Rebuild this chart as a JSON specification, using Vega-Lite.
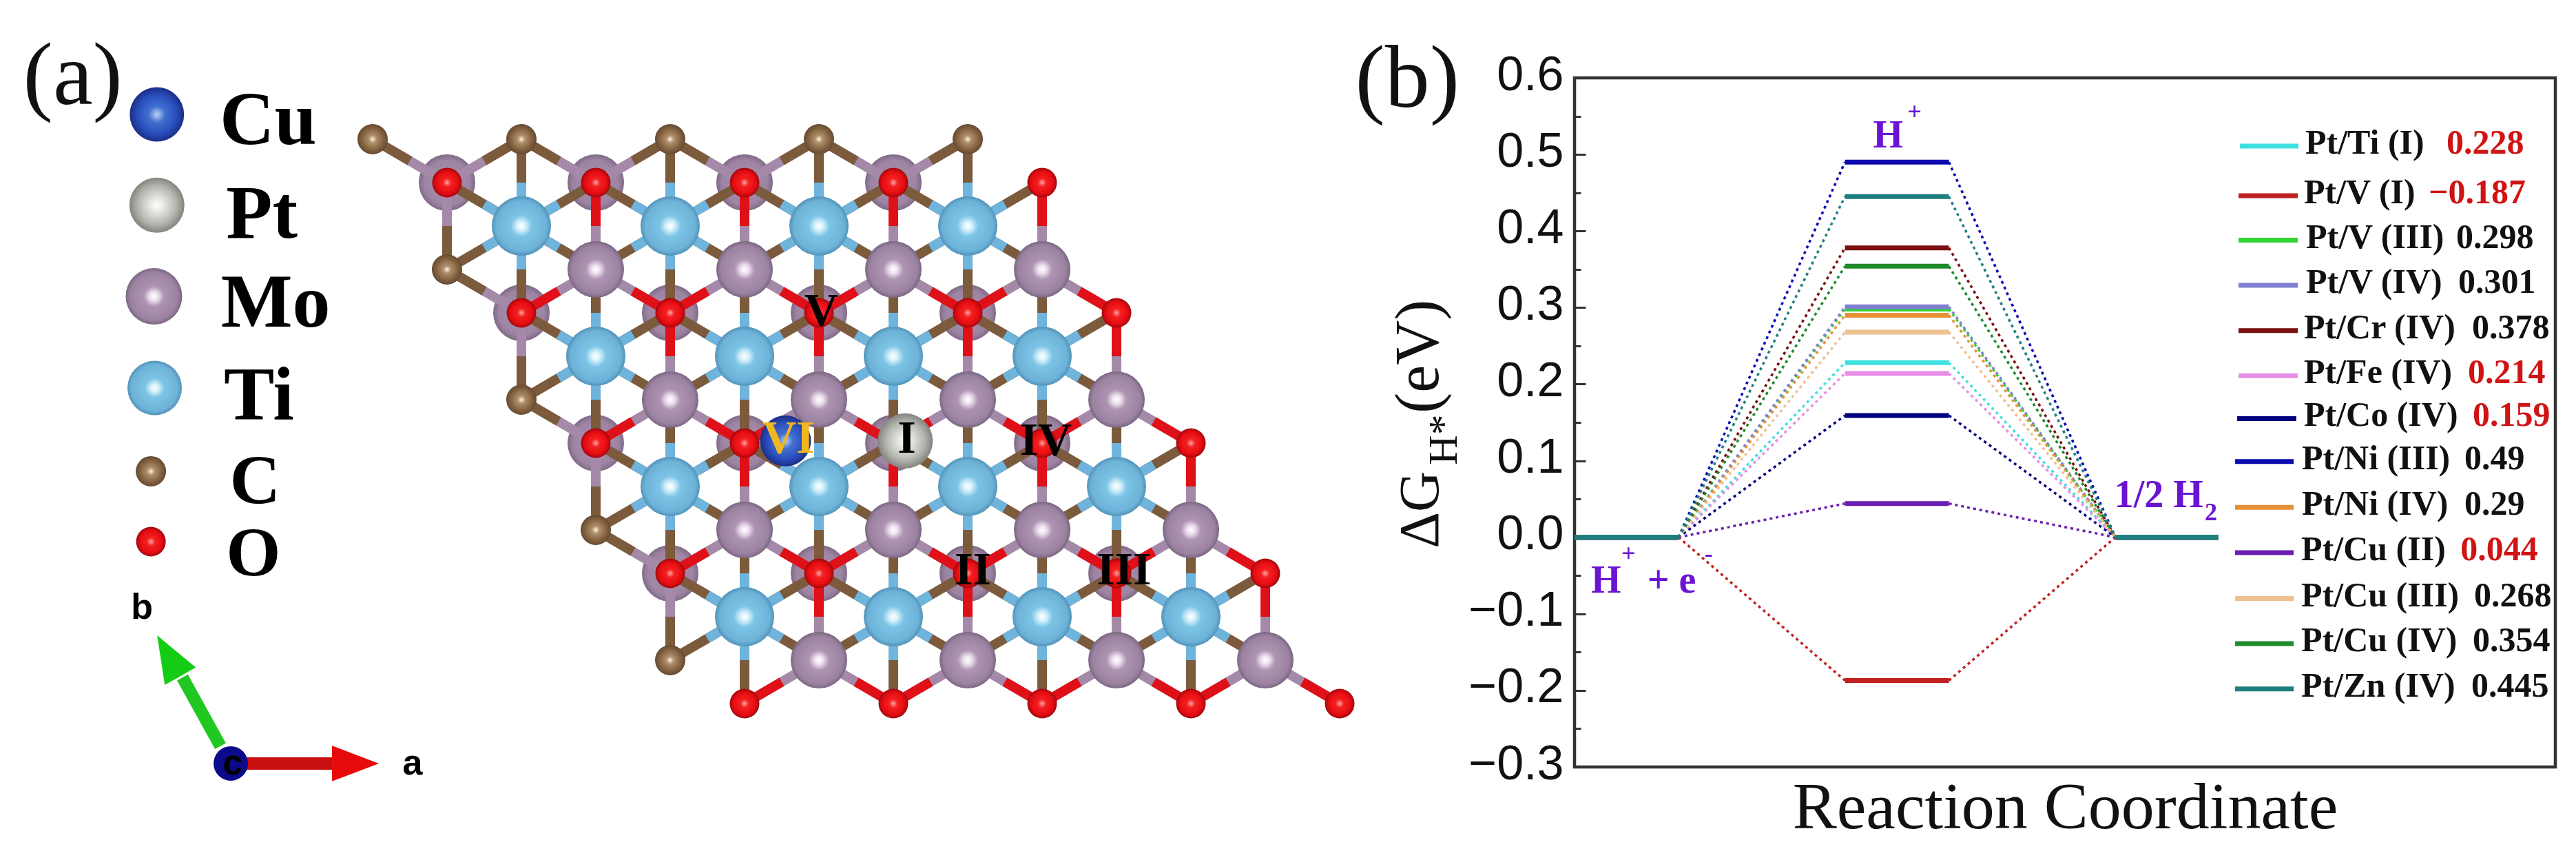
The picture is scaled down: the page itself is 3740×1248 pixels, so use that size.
{
"$schema":"https://vega.github.io/schema/vega-lite/v6.json",
"background":"white",
"padding":0,
"bounds":"flush",
"spacing":0,
"resolve":{"scale":{"color":"independent"}},
"config":{"view":{"stroke":null},"text":{"font":"Liberation Serif"}},
"datasets":{
"atoms":[
{"el":"Mo_b","x":1,"y":1},{"el":"Mo_b","x":3,"y":1},{"el":"Mo_b","x":5,"y":1},{"el":"Mo_b","x":7,"y":1},
{"el":"Mo_b","x":2,"y":4},{"el":"Mo_b","x":4,"y":4},{"el":"Mo_b","x":6,"y":4},{"el":"Mo_b","x":8,"y":4},
{"el":"Mo_b","x":3,"y":7},{"el":"Mo_b","x":5,"y":7},{"el":"Mo_b","x":7,"y":7},{"el":"Mo_b","x":9,"y":7},
{"el":"Mo_b","x":4,"y":10},{"el":"Mo_b","x":6,"y":10},{"el":"Mo_b","x":8,"y":10},{"el":"Mo_b","x":10,"y":10},
{"el":"Ti","x":2,"y":2},{"el":"Ti","x":4,"y":2},{"el":"Ti","x":6,"y":2},{"el":"Ti","x":8,"y":2},
{"el":"Ti","x":3,"y":5},{"el":"Ti","x":5,"y":5},{"el":"Ti","x":7,"y":5},{"el":"Ti","x":9,"y":5},
{"el":"Ti","x":4,"y":8},{"el":"Ti","x":6,"y":8},{"el":"Ti","x":8,"y":8},{"el":"Ti","x":10,"y":8},
{"el":"Ti","x":5,"y":11},{"el":"Ti","x":7,"y":11},{"el":"Ti","x":9,"y":11},{"el":"Ti","x":11,"y":11},
{"el":"Mo","x":3,"y":3},{"el":"Mo","x":5,"y":3},{"el":"Mo","x":7,"y":3},{"el":"Mo","x":9,"y":3},
{"el":"Mo","x":4,"y":6},{"el":"Mo","x":6,"y":6},{"el":"Mo","x":8,"y":6},{"el":"Mo","x":10,"y":6},
{"el":"Mo","x":5,"y":9},{"el":"Mo","x":7,"y":9},{"el":"Mo","x":9,"y":9},{"el":"Mo","x":11,"y":9},
{"el":"Mo","x":6,"y":12},{"el":"Mo","x":8,"y":12},{"el":"Mo","x":10,"y":12},{"el":"Mo","x":12,"y":12},
{"el":"Mo","x":-2.94,"y":3.62},
{"el":"C","x":0,"y":0},{"el":"C","x":2,"y":0},{"el":"C","x":4,"y":0},{"el":"C","x":6,"y":0},{"el":"C","x":8,"y":0},
{"el":"C","x":1,"y":3},{"el":"C","x":2,"y":6},{"el":"C","x":3,"y":9},{"el":"C","x":4,"y":12},
{"el":"C","x":-2.98,"y":7.65},
{"el":"O","x":1,"y":1},{"el":"O","x":3,"y":1},{"el":"O","x":5,"y":1},{"el":"O","x":7,"y":1},{"el":"O","x":9,"y":1},
{"el":"O","x":2,"y":4},{"el":"O","x":4,"y":4},{"el":"O","x":6,"y":4},{"el":"O","x":8,"y":4},{"el":"O","x":10,"y":4},
{"el":"O","x":3,"y":7},{"el":"O","x":5,"y":7},{"el":"O","x":9,"y":7},{"el":"O","x":11,"y":7},
{"el":"O","x":4,"y":10},{"el":"O","x":6,"y":10},{"el":"O","x":8,"y":10},{"el":"O","x":10,"y":10},{"el":"O","x":12,"y":10},
{"el":"O","x":5,"y":13},{"el":"O","x":7,"y":13},{"el":"O","x":9,"y":13},{"el":"O","x":11,"y":13},{"el":"O","x":13,"y":13},
{"el":"O","x":-2.98,"y":9.27},
{"el":"Pt","x":7.16,"y":6.95},{"el":"Pt","x":-2.9,"y":1.52},
{"el":"Cu","x":5.55,"y":6.95},
{"el":"Cu_key","x":-2.9,"y":-0.57},
{"el":"Ti_key","x":-2.93,"y":5.73}
],
"ti_axes":[
{"x":2,"y":0,"x2":2,"y2":4,"ax":2,"ay":1,"ax2":2,"ay2":3},{"x":1,"y":1,"x2":3,"y2":3,"ax":1.5,"ay":1.5,"ax2":2.5,"ay2":2.5},{"x":1,"y":3,"x2":3,"y2":1,"ax":1.5,"ay":2.5,"ax2":2.5,"ay2":1.5},
{"x":4,"y":0,"x2":4,"y2":4,"ax":4,"ay":1,"ax2":4,"ay2":3},{"x":3,"y":1,"x2":5,"y2":3,"ax":3.5,"ay":1.5,"ax2":4.5,"ay2":2.5},{"x":3,"y":3,"x2":5,"y2":1,"ax":3.5,"ay":2.5,"ax2":4.5,"ay2":1.5},
{"x":6,"y":0,"x2":6,"y2":4,"ax":6,"ay":1,"ax2":6,"ay2":3},{"x":5,"y":1,"x2":7,"y2":3,"ax":5.5,"ay":1.5,"ax2":6.5,"ay2":2.5},{"x":5,"y":3,"x2":7,"y2":1,"ax":5.5,"ay":2.5,"ax2":6.5,"ay2":1.5},
{"x":8,"y":0,"x2":8,"y2":4,"ax":8,"ay":1,"ax2":8,"ay2":3},{"x":7,"y":1,"x2":9,"y2":3,"ax":7.5,"ay":1.5,"ax2":8.5,"ay2":2.5},{"x":7,"y":3,"x2":9,"y2":1,"ax":7.5,"ay":2.5,"ax2":8.5,"ay2":1.5},
{"x":3,"y":3,"x2":3,"y2":7,"ax":3,"ay":4,"ax2":3,"ay2":6},{"x":2,"y":4,"x2":4,"y2":6,"ax":2.5,"ay":4.5,"ax2":3.5,"ay2":5.5},{"x":2,"y":6,"x2":4,"y2":4,"ax":2.5,"ay":5.5,"ax2":3.5,"ay2":4.5},
{"x":5,"y":3,"x2":5,"y2":7,"ax":5,"ay":4,"ax2":5,"ay2":6},{"x":4,"y":4,"x2":6,"y2":6,"ax":4.5,"ay":4.5,"ax2":5.5,"ay2":5.5},{"x":4,"y":6,"x2":6,"y2":4,"ax":4.5,"ay":5.5,"ax2":5.5,"ay2":4.5},
{"x":7,"y":3,"x2":7,"y2":7,"ax":7,"ay":4,"ax2":7,"ay2":6},{"x":6,"y":4,"x2":8,"y2":6,"ax":6.5,"ay":4.5,"ax2":7.5,"ay2":5.5},{"x":6,"y":6,"x2":8,"y2":4,"ax":6.5,"ay":5.5,"ax2":7.5,"ay2":4.5},
{"x":9,"y":3,"x2":9,"y2":7,"ax":9,"ay":4,"ax2":9,"ay2":6},{"x":8,"y":4,"x2":10,"y2":6,"ax":8.5,"ay":4.5,"ax2":9.5,"ay2":5.5},{"x":8,"y":6,"x2":10,"y2":4,"ax":8.5,"ay":5.5,"ax2":9.5,"ay2":4.5},
{"x":4,"y":6,"x2":4,"y2":10,"ax":4,"ay":7,"ax2":4,"ay2":9},{"x":3,"y":7,"x2":5,"y2":9,"ax":3.5,"ay":7.5,"ax2":4.5,"ay2":8.5},{"x":3,"y":9,"x2":5,"y2":7,"ax":3.5,"ay":8.5,"ax2":4.5,"ay2":7.5},
{"x":6,"y":6,"x2":6,"y2":10,"ax":6,"ay":7,"ax2":6,"ay2":9},{"x":5,"y":7,"x2":7,"y2":9,"ax":5.5,"ay":7.5,"ax2":6.5,"ay2":8.5},{"x":5,"y":9,"x2":7,"y2":7,"ax":5.5,"ay":8.5,"ax2":6.5,"ay2":7.5},
{"x":8,"y":6,"x2":8,"y2":10,"ax":8,"ay":7,"ax2":8,"ay2":9},{"x":7,"y":7,"x2":9,"y2":9,"ax":7.5,"ay":7.5,"ax2":8.5,"ay2":8.5},{"x":7,"y":9,"x2":9,"y2":7,"ax":7.5,"ay":8.5,"ax2":8.5,"ay2":7.5},
{"x":10,"y":6,"x2":10,"y2":10,"ax":10,"ay":7,"ax2":10,"ay2":9},{"x":9,"y":7,"x2":11,"y2":9,"ax":9.5,"ay":7.5,"ax2":10.5,"ay2":8.5},{"x":9,"y":9,"x2":11,"y2":7,"ax":9.5,"ay":8.5,"ax2":10.5,"ay2":7.5},
{"x":5,"y":9,"x2":5,"y2":13,"ax":5,"ay":10,"ax2":5,"ay2":12},{"x":4,"y":10,"x2":6,"y2":12,"ax":4.5,"ay":10.5,"ax2":5.5,"ay2":11.5},{"x":4,"y":12,"x2":6,"y2":10,"ax":4.5,"ay":11.5,"ax2":5.5,"ay2":10.5},
{"x":7,"y":9,"x2":7,"y2":13,"ax":7,"ay":10,"ax2":7,"ay2":12},{"x":6,"y":10,"x2":8,"y2":12,"ax":6.5,"ay":10.5,"ax2":7.5,"ay2":11.5},{"x":6,"y":12,"x2":8,"y2":10,"ax":6.5,"ay":11.5,"ax2":7.5,"ay2":10.5},
{"x":9,"y":9,"x2":9,"y2":13,"ax":9,"ay":10,"ax2":9,"ay2":12},{"x":8,"y":10,"x2":10,"y2":12,"ax":8.5,"ay":10.5,"ax2":9.5,"ay2":11.5},{"x":8,"y":12,"x2":10,"y2":10,"ax":8.5,"ay":11.5,"ax2":9.5,"ay2":10.5},
{"x":11,"y":9,"x2":11,"y2":13,"ax":11,"ay":10,"ax2":11,"ay2":12},{"x":10,"y":10,"x2":12,"y2":12,"ax":10.5,"ay":10.5,"ax2":11.5,"ay2":11.5},{"x":10,"y":12,"x2":12,"y2":10,"ax":10.5,"ay":11.5,"ax2":11.5,"ay2":10.5}
],
"edges":[
{"end":"O","x":3,"y":1,"x2":3,"y2":3,"mx":3,"my":2},{"end":"O","x":4,"y":4,"x2":3,"y2":3,"mx":3.5,"my":3.5},{"end":"O","x":2,"y":4,"x2":3,"y2":3,"mx":2.5,"my":3.5},
{"end":"O","x":5,"y":1,"x2":5,"y2":3,"mx":5,"my":2},{"end":"O","x":6,"y":4,"x2":5,"y2":3,"mx":5.5,"my":3.5},{"end":"O","x":4,"y":4,"x2":5,"y2":3,"mx":4.5,"my":3.5},
{"end":"O","x":7,"y":1,"x2":7,"y2":3,"mx":7,"my":2},{"end":"O","x":8,"y":4,"x2":7,"y2":3,"mx":7.5,"my":3.5},{"end":"O","x":6,"y":4,"x2":7,"y2":3,"mx":6.5,"my":3.5},
{"end":"O","x":9,"y":1,"x2":9,"y2":3,"mx":9,"my":2},{"end":"O","x":10,"y":4,"x2":9,"y2":3,"mx":9.5,"my":3.5},{"end":"O","x":8,"y":4,"x2":9,"y2":3,"mx":8.5,"my":3.5},
{"end":"O","x":4,"y":4,"x2":4,"y2":6,"mx":4,"my":5},{"end":"O","x":5,"y":7,"x2":4,"y2":6,"mx":4.5,"my":6.5},{"end":"O","x":3,"y":7,"x2":4,"y2":6,"mx":3.5,"my":6.5},
{"end":"O","x":6,"y":4,"x2":6,"y2":6,"mx":6,"my":5},{"end":"O","x":7,"y":7,"x2":6,"y2":6,"mx":6.5,"my":6.5},{"end":"O","x":5,"y":7,"x2":6,"y2":6,"mx":5.5,"my":6.5},
{"end":"O","x":8,"y":4,"x2":8,"y2":6,"mx":8,"my":5},{"end":"O","x":9,"y":7,"x2":8,"y2":6,"mx":8.5,"my":6.5},{"end":"O","x":7,"y":7,"x2":8,"y2":6,"mx":7.5,"my":6.5},
{"end":"O","x":10,"y":4,"x2":10,"y2":6,"mx":10,"my":5},{"end":"O","x":11,"y":7,"x2":10,"y2":6,"mx":10.5,"my":6.5},{"end":"O","x":9,"y":7,"x2":10,"y2":6,"mx":9.5,"my":6.5},
{"end":"O","x":5,"y":7,"x2":5,"y2":9,"mx":5,"my":8},{"end":"O","x":6,"y":10,"x2":5,"y2":9,"mx":5.5,"my":9.5},{"end":"O","x":4,"y":10,"x2":5,"y2":9,"mx":4.5,"my":9.5},
{"end":"O","x":7,"y":7,"x2":7,"y2":9,"mx":7,"my":8},{"end":"O","x":8,"y":10,"x2":7,"y2":9,"mx":7.5,"my":9.5},{"end":"O","x":6,"y":10,"x2":7,"y2":9,"mx":6.5,"my":9.5},
{"end":"O","x":9,"y":7,"x2":9,"y2":9,"mx":9,"my":8},{"end":"O","x":10,"y":10,"x2":9,"y2":9,"mx":9.5,"my":9.5},{"end":"O","x":8,"y":10,"x2":9,"y2":9,"mx":8.5,"my":9.5},
{"end":"O","x":11,"y":7,"x2":11,"y2":9,"mx":11,"my":8},{"end":"O","x":12,"y":10,"x2":11,"y2":9,"mx":11.5,"my":9.5},{"end":"O","x":10,"y":10,"x2":11,"y2":9,"mx":10.5,"my":9.5},
{"end":"O","x":6,"y":10,"x2":6,"y2":12,"mx":6,"my":11},{"end":"O","x":7,"y":13,"x2":6,"y2":12,"mx":6.5,"my":12.5},{"end":"O","x":5,"y":13,"x2":6,"y2":12,"mx":5.5,"my":12.5},
{"end":"O","x":8,"y":10,"x2":8,"y2":12,"mx":8,"my":11},{"end":"O","x":9,"y":13,"x2":8,"y2":12,"mx":8.5,"my":12.5},{"end":"O","x":7,"y":13,"x2":8,"y2":12,"mx":7.5,"my":12.5},
{"end":"O","x":10,"y":10,"x2":10,"y2":12,"mx":10,"my":11},{"end":"O","x":11,"y":13,"x2":10,"y2":12,"mx":10.5,"my":12.5},{"end":"O","x":9,"y":13,"x2":10,"y2":12,"mx":9.5,"my":12.5},
{"end":"O","x":12,"y":10,"x2":12,"y2":12,"mx":12,"my":11},{"end":"O","x":13,"y":13,"x2":12,"y2":12,"mx":12.5,"my":12.5},{"end":"O","x":11,"y":13,"x2":12,"y2":12,"mx":11.5,"my":12.5},
{"end":"C","x":0,"y":0,"x2":1,"y2":1,"mx":0.5,"my":0.5},{"end":"C","x":2,"y":0,"x2":1,"y2":1,"mx":1.5,"my":0.5},
{"end":"C","x":2,"y":0,"x2":3,"y2":1,"mx":2.5,"my":0.5},{"end":"C","x":4,"y":0,"x2":3,"y2":1,"mx":3.5,"my":0.5},
{"end":"C","x":4,"y":0,"x2":5,"y2":1,"mx":4.5,"my":0.5},{"end":"C","x":6,"y":0,"x2":5,"y2":1,"mx":5.5,"my":0.5},
{"end":"C","x":6,"y":0,"x2":7,"y2":1,"mx":6.5,"my":0.5},{"end":"C","x":8,"y":0,"x2":7,"y2":1,"mx":7.5,"my":0.5},
{"end":"C","x":1,"y":3,"x2":1,"y2":1,"mx":1,"my":2},{"end":"C","x":1,"y":3,"x2":2,"y2":4,"mx":1.5,"my":3.5},
{"end":"C","x":2,"y":6,"x2":2,"y2":4,"mx":2,"my":5},{"end":"C","x":2,"y":6,"x2":3,"y2":7,"mx":2.5,"my":6.5},
{"end":"C","x":3,"y":9,"x2":3,"y2":7,"mx":3,"my":8},{"end":"C","x":3,"y":9,"x2":4,"y2":10,"mx":3.5,"my":9.5},
{"end":"C","x":4,"y":12,"x2":4,"y2":10,"mx":4,"my":11}
],
"links":[
{"s":"Pt/Ti (I)","x":1,"y":0,"x2":2.6,"y2":0.228},{"s":"Pt/Ti (I)","x":3.6,"y":0.228,"x2":5.2,"y2":0},
{"s":"Pt/V (I)","x":1,"y":0,"x2":2.6,"y2":-0.187},{"s":"Pt/V (I)","x":3.6,"y":-0.187,"x2":5.2,"y2":0},
{"s":"Pt/V (III)","x":1,"y":0,"x2":2.6,"y2":0.298},{"s":"Pt/V (III)","x":3.6,"y":0.298,"x2":5.2,"y2":0},
{"s":"Pt/V (IV)","x":1,"y":0,"x2":2.6,"y2":0.301},{"s":"Pt/V (IV)","x":3.6,"y":0.301,"x2":5.2,"y2":0},
{"s":"Pt/Cr (IV)","x":1,"y":0,"x2":2.6,"y2":0.378},{"s":"Pt/Cr (IV)","x":3.6,"y":0.378,"x2":5.2,"y2":0},
{"s":"Pt/Fe (IV)","x":1,"y":0,"x2":2.6,"y2":0.214},{"s":"Pt/Fe (IV)","x":3.6,"y":0.214,"x2":5.2,"y2":0},
{"s":"Pt/Co (IV)","x":1,"y":0,"x2":2.6,"y2":0.159},{"s":"Pt/Co (IV)","x":3.6,"y":0.159,"x2":5.2,"y2":0},
{"s":"Pt/Ni (III)","x":1,"y":0,"x2":2.6,"y2":0.49},{"s":"Pt/Ni (III)","x":3.6,"y":0.49,"x2":5.2,"y2":0},
{"s":"Pt/Ni (IV)","x":1,"y":0,"x2":2.6,"y2":0.29},{"s":"Pt/Ni (IV)","x":3.6,"y":0.29,"x2":5.2,"y2":0},
{"s":"Pt/Cu (II)","x":1,"y":0,"x2":2.6,"y2":0.044},{"s":"Pt/Cu (II)","x":3.6,"y":0.044,"x2":5.2,"y2":0},
{"s":"Pt/Cu (III)","x":1,"y":0,"x2":2.6,"y2":0.268},{"s":"Pt/Cu (III)","x":3.6,"y":0.268,"x2":5.2,"y2":0},
{"s":"Pt/Cu (IV)","x":1,"y":0,"x2":2.6,"y2":0.354},{"s":"Pt/Cu (IV)","x":3.6,"y":0.354,"x2":5.2,"y2":0},
{"s":"Pt/Zn (IV)","x":1,"y":0,"x2":2.6,"y2":0.445},{"s":"Pt/Zn (IV)","x":3.6,"y":0.445,"x2":5.2,"y2":0}
],
"plateaus":[
{"s":"Pt/Ti (I)","x":0,"x2":1,"y":0},{"s":"Pt/V (I)","x":0,"x2":1,"y":0},{"s":"Pt/V (III)","x":0,"x2":1,"y":0},{"s":"Pt/V (IV)","x":0,"x2":1,"y":0},{"s":"Pt/Cr (IV)","x":0,"x2":1,"y":0},{"s":"Pt/Fe (IV)","x":0,"x2":1,"y":0},{"s":"Pt/Co (IV)","x":0,"x2":1,"y":0},{"s":"Pt/Ni (III)","x":0,"x2":1,"y":0},{"s":"Pt/Ni (IV)","x":0,"x2":1,"y":0},{"s":"Pt/Cu (II)","x":0,"x2":1,"y":0},{"s":"Pt/Cu (III)","x":0,"x2":1,"y":0},{"s":"Pt/Cu (IV)","x":0,"x2":1,"y":0},{"s":"Pt/Zn (IV)","x":0,"x2":1,"y":0},
{"s":"Pt/Ti (I)","x":5.2,"x2":6.19,"y":0},{"s":"Pt/V (I)","x":5.2,"x2":6.19,"y":0},{"s":"Pt/V (III)","x":5.2,"x2":6.19,"y":0},{"s":"Pt/V (IV)","x":5.2,"x2":6.19,"y":0},{"s":"Pt/Cr (IV)","x":5.2,"x2":6.19,"y":0},{"s":"Pt/Fe (IV)","x":5.2,"x2":6.19,"y":0},{"s":"Pt/Co (IV)","x":5.2,"x2":6.19,"y":0},{"s":"Pt/Ni (III)","x":5.2,"x2":6.19,"y":0},{"s":"Pt/Ni (IV)","x":5.2,"x2":6.19,"y":0},{"s":"Pt/Cu (II)","x":5.2,"x2":6.19,"y":0},{"s":"Pt/Cu (III)","x":5.2,"x2":6.19,"y":0},{"s":"Pt/Cu (IV)","x":5.2,"x2":6.19,"y":0},{"s":"Pt/Zn (IV)","x":5.2,"x2":6.19,"y":0},
{"s":"Pt/Ti (I)","x":2.6,"x2":3.6,"y":0.228},{"s":"Pt/V (I)","x":2.6,"x2":3.6,"y":-0.187},{"s":"Pt/V (III)","x":2.6,"x2":3.6,"y":0.298},{"s":"Pt/V (IV)","x":2.6,"x2":3.6,"y":0.301},{"s":"Pt/Cr (IV)","x":2.6,"x2":3.6,"y":0.378},{"s":"Pt/Fe (IV)","x":2.6,"x2":3.6,"y":0.214},{"s":"Pt/Co (IV)","x":2.6,"x2":3.6,"y":0.159},{"s":"Pt/Ni (III)","x":2.6,"x2":3.6,"y":0.49},{"s":"Pt/Ni (IV)","x":2.6,"x2":3.6,"y":0.29},{"s":"Pt/Cu (II)","x":2.6,"x2":3.6,"y":0.044},{"s":"Pt/Cu (III)","x":2.6,"x2":3.6,"y":0.268},{"s":"Pt/Cu (IV)","x":2.6,"x2":3.6,"y":0.354},{"s":"Pt/Zn (IV)","x":2.6,"x2":3.6,"y":0.445}
],
"key_lines":[
{"s":"Pt/Ti (I)","x":6.397,"x2":6.96,"y":0.511},{"s":"Pt/V (I)","x":6.384,"x2":6.954,"y":0.446},{"s":"Pt/V (III)","x":6.384,"x2":6.954,"y":0.388},{"s":"Pt/V (IV)","x":6.384,"x2":6.954,"y":0.329},{"s":"Pt/Cr (IV)","x":6.384,"x2":6.954,"y":0.27},{"s":"Pt/Fe (IV)","x":6.384,"x2":6.954,"y":0.211},{"s":"Pt/Co (IV)","x":6.371,"x2":6.94,"y":0.155},{"s":"Pt/Ni (III)","x":6.351,"x2":6.914,"y":0.099},{"s":"Pt/Ni (IV)","x":6.351,"x2":6.914,"y":0.039},{"s":"Pt/Cu (II)","x":6.351,"x2":6.914,"y":-0.02},{"s":"Pt/Cu (III)","x":6.351,"x2":6.914,"y":-0.08},{"s":"Pt/Cu (IV)","x":6.351,"x2":6.914,"y":-0.139},{"s":"Pt/Zn (IV)","x":6.351,"x2":6.914,"y":-0.198}
],
"key_black":[
{"t":"Pt/Ti (I)","x":7.026,"y":0.511},{"t":"Pt/V (I)","x":7.013,"y":0.446},{"t":"Pt/V (III)","x":7.033,"y":0.388},{"t":"0.298","x":8.477,"y":0.388},{"t":"Pt/V (IV)","x":7.033,"y":0.329},{"t":"0.301","x":8.497,"y":0.329},{"t":"Pt/Cr (IV)","x":7.013,"y":0.27},{"t":"0.378","x":8.629,"y":0.27},{"t":"Pt/Fe (IV)","x":7.013,"y":0.211},{"t":"Pt/Co (IV)","x":7.013,"y":0.155},{"t":"Pt/Ni (III)","x":6.993,"y":0.099},{"t":"0.49","x":8.556,"y":0.099},{"t":"Pt/Ni (IV)","x":6.993,"y":0.039},{"t":"0.29","x":8.556,"y":0.039},{"t":"Pt/Cu (II)","x":6.987,"y":-0.02},{"t":"Pt/Cu (III)","x":6.987,"y":-0.08},{"t":"0.268","x":8.649,"y":-0.08},{"t":"Pt/Cu (IV)","x":6.987,"y":-0.139},{"t":"0.354","x":8.636,"y":-0.139},{"t":"Pt/Zn (IV)","x":6.987,"y":-0.198},{"t":"0.445","x":8.622,"y":-0.198}
],
"key_red":[
{"t":"0.228","x":8.384,"y":0.511},{"t":"−0.187","x":8.212,"y":0.446},{"t":"0.214","x":8.589,"y":0.211},{"t":"0.159","x":8.636,"y":0.155},{"t":"0.044","x":8.517,"y":-0.02}
]
},
"hconcat":[
{
"width":2286,"height":1248,
"encoding":{
"x":{"field":"x","type":"quantitative","axis":null,"scale":{"domain":[-5.009,16.157],"nice":false,"zero":false}},
"y":{"field":"y","type":"quantitative","axis":null,"scale":{"domain":[16.603,-3.206],"nice":false,"zero":false}}
},
"layer":[
{"data":{"name":"atoms"},"transform":[{"filter":"datum.el==='Mo_b'"}],"mark":{"type":"circle","size":6724,"opacity":1,"fill":{"gradient":"radial","stops":[{"offset":0,"color":"#AC92B0"},{"offset":0.8,"color":"#9C84A2"},{"offset":1,"color":"#7F6A86"}]}}},
{"data":{"name":"edges"},"mark":{"type":"rule","strokeWidth":14,"color":"#A48AA8"},"encoding":{"x2":{"field":"x2"},"y2":{"field":"y2"}}},
{"data":{"name":"edges"},"mark":{"type":"rule","strokeWidth":14},"encoding":{"x2":{"field":"mx"},"y2":{"field":"my"},"color":{"field":"end","type":"nominal","legend":null,"scale":{"domain":["O","C"],"range":["#E01018","#7C5A3C"]}}}},
{"data":{"name":"ti_axes"},"mark":{"type":"rule","strokeWidth":14,"color":"#7C5A3C"},"encoding":{"x2":{"field":"x2"},"y2":{"field":"y2"}}},
{"data":{"name":"ti_axes"},"mark":{"type":"rule","strokeWidth":14,"color":"#6FB4DC"},"encoding":{
"x":{"field":"ax","type":"quantitative","axis":null,"scale":{"domain":[-5.009,16.157],"nice":false,"zero":false}},
"y":{"field":"ay","type":"quantitative","axis":null,"scale":{"domain":[16.603,-3.206],"nice":false,"zero":false}},
"x2":{"field":"ax2"},"y2":{"field":"ay2"}}},
{"data":{"name":"atoms"},"transform":[{"filter":"datum.el==='Ti'"}],"mark":{"type":"circle","size":7396,"opacity":1,"fill":{"gradient":"radial","stops":[{"offset":0,"color":"#FFFFFF"},{"offset":0.14,"color":"#D8F2FC"},{"offset":0.36,"color":"#7CC4E6"},{"offset":0.85,"color":"#6DB2D8"},{"offset":1,"color":"#5293B8"}]}}},
{"data":{"name":"atoms"},"transform":[{"filter":"datum.el==='Ti_key'"}],"mark":{"type":"circle","size":6241,"opacity":1,"fill":{"gradient":"radial","stops":[{"offset":0,"color":"#FFFFFF"},{"offset":0.14,"color":"#D8F2FC"},{"offset":0.36,"color":"#7CC4E6"},{"offset":0.85,"color":"#6DB2D8"},{"offset":1,"color":"#5293B8"}]}}},
{"data":{"name":"atoms"},"transform":[{"filter":"datum.el==='Mo'"}],"mark":{"type":"circle","size":6724,"opacity":1,"fill":{"gradient":"radial","stops":[{"offset":0,"color":"#FFFFFF"},{"offset":0.14,"color":"#F0E4F2"},{"offset":0.36,"color":"#AE94B2"},{"offset":0.85,"color":"#9A82A0"},{"offset":1,"color":"#7A6682"}]}}},
{"data":{"name":"atoms"},"transform":[{"filter":"datum.el==='C'"}],"mark":{"type":"circle","size":1936,"opacity":1,"fill":{"gradient":"radial","stops":[{"offset":0,"color":"#FFF4DF"},{"offset":0.25,"color":"#B08F6C"},{"offset":0.7,"color":"#84623F"},{"offset":1,"color":"#654A32"}]}}},
{"data":{"name":"atoms"},"transform":[{"filter":"datum.el==='O'"}],"mark":{"type":"circle","size":1849,"opacity":1,"fill":{"gradient":"radial","stops":[{"offset":0,"color":"#FFA8A8"},{"offset":0.28,"color":"#F42020"},{"offset":0.75,"color":"#E60C12"},{"offset":1,"color":"#9E0A0E"}]}}},
{"data":{"name":"atoms"},"transform":[{"filter":"datum.el==='Pt'"}],"mark":{"type":"circle","size":6400,"opacity":1,"fill":{"gradient":"radial","stops":[{"offset":0,"color":"#FFFFFF"},{"offset":0.3,"color":"#E2E2DC"},{"offset":0.7,"color":"#B4B4AE"},{"offset":1,"color":"#84847E"}]}}},
{"data":{"name":"atoms"},"transform":[{"filter":"datum.el==='Cu'"}],"mark":{"type":"circle","size":5476,"opacity":1,"fill":{"gradient":"radial","stops":[{"offset":0,"color":"#BDD4F4"},{"offset":0.3,"color":"#4270D0"},{"offset":0.7,"color":"#2A4FBE"},{"offset":1,"color":"#1B2E86"}]}}},
{"data":{"name":"atoms"},"transform":[{"filter":"datum.el==='Cu_key'"}],"mark":{"type":"circle","size":6241,"opacity":1,"fill":{"gradient":"radial","stops":[{"offset":0,"color":"#BDD4F4"},{"offset":0.3,"color":"#4270D0"},{"offset":0.7,"color":"#2A4FBE"},{"offset":1,"color":"#1B2E86"}]}}},
{"data":{"values":[{"t":"V","x":6.03,"y":3.97},{"t":"IV","x":9.05,"y":6.95},{"t":"II","x":8.07,"y":9.93},{"t":"III","x":10.1,"y":9.93},{"t":"I","x":7.18,"y":6.9}]},"mark":{"type":"text","font":"Liberation Serif","fontWeight":"bold","fontSize":68,"color":"black","baseline":"middle"},"encoding":{"text":{"field":"t"}}},
{"data":{"values":[{"t":"VI","x":5.59,"y":6.9}]},"mark":{"type":"text","font":"Liberation Serif","fontWeight":"bold","fontSize":68,"color":"#F0B820","baseline":"middle"},"encoding":{"text":{"field":"t"}}},
{"data":{"values":[{"t":"Cu","x":-2.055,"y":0.111},{"t":"Pt","x":-1.97,"y":2.27},{"t":"Mo","x":-2.04,"y":4.32},{"t":"Ti","x":-2,"y":6.46}]},"mark":{"type":"text","font":"Liberation Serif","fontWeight":"bold","fontSize":110,"color":"black","align":"left","baseline":"alphabetic"},"encoding":{"text":{"field":"t"}}},
{"data":{"values":[{"t":"C","x":-1.92,"y":8.4},{"t":"O","x":-1.97,"y":10.06}]},"mark":{"type":"text","font":"Liberation Serif","fontWeight":"bold","fontSize":102,"color":"black","align":"left","baseline":"alphabetic"},"encoding":{"text":{"field":"t"}}},
{"data":{"values":[{"t":"(a)","x":-4.03,"y":-0.81},{"t":"(b)","x":13.91,"y":-0.75}]},"mark":{"type":"text","font":"Liberation Serif","fontSize":130,"color":"#111111","baseline":"alphabetic"},"encoding":{"text":{"field":"t"}}},
{"data":{"values":[{"x":-2.046,"y":13.98,"x2":-2.556,"y2":12.4}]},"mark":{"type":"rule","strokeWidth":18,"color":"#22C822"},"encoding":{"x2":{"field":"x2"},"y2":{"field":"y2"}}},
{"data":{"values":[{"x":-1.907,"y":14.38,"x2":-0.546,"y2":14.38}]},"mark":{"type":"rule","strokeWidth":18,"color":"#C81010"},"encoding":{"x2":{"field":"x2"},"y2":{"field":"y2"}}},
{"data":{"values":[{"x":-2.741,"y":11.9}]},"mark":{"type":"point","filled":true,"opacity":1,"shape":"M0,-1L0.76,1L-0.76,1Z","size":4624,"angle":-29.5,"color":"#14CC14"}},
{"data":{"values":[{"x":-0.231,"y":14.38}]},"mark":{"type":"point","filled":true,"opacity":1,"shape":"M0,-1L0.76,1L-0.76,1Z","size":4624,"angle":90,"color":"#E60A0A"}},
{"data":{"values":[{"x":-1.907,"y":14.38}]},"mark":{"type":"circle","size":2500,"opacity":1,"color":"#0A0A8A"}},
{"data":{"values":[{"t":"c","x":-1.88,"y":14.38},{"t":"a","x":0.537,"y":14.38},{"t":"b","x":-3.1,"y":10.79}]},"mark":{"type":"text","font":"Liberation Sans","fontWeight":"bold","fontSize":52,"color":"black","baseline":"middle"},"encoding":{"text":{"field":"t"}}}
]
},
{
"width":1424,"height":1113,
"encoding":{
"x":{"field":"x","type":"quantitative","scale":{"domain":[0,9.43],"nice":false,"zero":false},"axis":{"title":"Reaction Coordinate","titleFont":"Liberation Serif","titleFontSize":96,"titleFontWeight":"normal","titleColor":"#111111","titlePadding":12,"labels":false,"ticks":false,"domain":false,"grid":false}},
"y":{"field":"y","type":"quantitative","scale":{"domain":[-0.3,0.6],"range":[1113,113],"nice":false,"zero":false},"axis":{"title":null,"values":[-0.3,-0.25,-0.2,-0.15,-0.1,-0.05,0,0.05,0.1,0.15,0.2,0.25,0.3,0.35,0.4,0.45,0.5,0.55,0.6],"labelExpr":"abs(round(datum.value*100))%10===0 ? format(datum.value,'.1f') : ''","labelFont":"Liberation Sans","labelFontSize":70,"labelColor":"#111111","labelPadding":32,"labelOffset":-4,"tickSize":{"condition":{"test":"abs(round(datum.value*100))%10===0","value":-16},"value":-9},"tickColor":"#333333","tickWidth":3,"domain":false,"grid":false,"labelOverlap":false,"labelBound":false}}
},
"layer":[
{"data":{"values":[{"x":0,"x2":9.43,"y":-0.3,"y2":0.6}]},"mark":{"type":"rect","fillOpacity":0,"stroke":"#333333","strokeWidth":4.5},"encoding":{"x2":{"field":"x2"},"y2":{"field":"y2"}}},
{"data":{"name":"links"},"mark":{"type":"rule","strokeWidth":3.5,"strokeDash":[4,5]},"encoding":{"x2":{"field":"x2"},"y2":{"field":"y2"},"color":{"field":"s","type":"nominal","legend":null,"scale":{"domain":["Pt/Ti (I)","Pt/V (I)","Pt/V (III)","Pt/V (IV)","Pt/Cr (IV)","Pt/Fe (IV)","Pt/Co (IV)","Pt/Ni (III)","Pt/Ni (IV)","Pt/Cu (II)","Pt/Cu (III)","Pt/Cu (IV)","Pt/Zn (IV)"],"range":["#40E0E0","#C02020","#32D232","#8080D0","#7A1010","#E68FE6","#00007F","#0A0AB0","#E69138","#6A1FB0","#EEC090","#1E8A2A","#1F7F80"]}}}},
{"data":{"name":"plateaus"},"mark":{"type":"rule","strokeWidth":7},"encoding":{"x2":{"field":"x2"},"color":{"field":"s","type":"nominal","legend":null}}},
{"data":{"name":"key_lines"},"mark":{"type":"rule","strokeWidth":7},"encoding":{"x2":{"field":"x2"},"color":{"field":"s","type":"nominal","legend":null}}},
{"data":{"name":"key_black"},"mark":{"type":"text","font":"Liberation Serif","fontWeight":"bold","fontSize":50,"color":"#111111","align":"left","baseline":"alphabetic","dy":11},"encoding":{"text":{"field":"t"}}},
{"data":{"name":"key_red"},"mark":{"type":"text","font":"Liberation Serif","fontWeight":"bold","fontSize":50,"color":"#D01414","align":"left","baseline":"alphabetic","dy":11},"encoding":{"text":{"field":"t"}}},
{"data":{"values":[{"t":"H","x":2.87,"y":0.509},{"t":"H","x":0.159,"y":-0.072},{"t":"+ e","x":0.7,"y":-0.072},{"t":"1/2 H","x":5.19,"y":0.039}]},"mark":{"type":"text","font":"Liberation Serif","fontWeight":"bold","fontSize":56,"color":"#6A14D2","align":"left","baseline":"alphabetic"},"encoding":{"text":{"field":"t"}}},
{"data":{"values":[{"t":"+","x":3.2,"y":0.545},{"t":"+","x":0.45,"y":-0.032},{"t":"-","x":1.25,"y":-0.032},{"t":"2","x":6.06,"y":0.022}]},"mark":{"type":"text","font":"Liberation Serif","fontWeight":"bold","fontSize":36,"color":"#6A14D2","align":"left","baseline":"alphabetic"},"encoding":{"text":{"field":"t"}}},
{"data":{"values":[{"t":"ΔG","x":-1.311,"y":-0.0144}]},"mark":{"type":"text","font":"Liberation Serif","fontSize":82,"color":"#111111","align":"left","baseline":"alphabetic","angle":270},"encoding":{"text":{"field":"t"}}},
{"data":{"values":[{"t":"H*","x":-1.132,"y":0.0945}]},"mark":{"type":"text","font":"Liberation Serif","fontSize":60,"color":"#111111","align":"left","baseline":"alphabetic","angle":270},"encoding":{"text":{"field":"t"}}},
{"data":{"values":[{"t":"(eV)","x":-1.311,"y":0.162}]},"mark":{"type":"text","font":"Liberation Serif","fontSize":90,"color":"#111111","align":"left","baseline":"alphabetic","angle":270},"encoding":{"text":{"field":"t"}}}
]
}
]
}
